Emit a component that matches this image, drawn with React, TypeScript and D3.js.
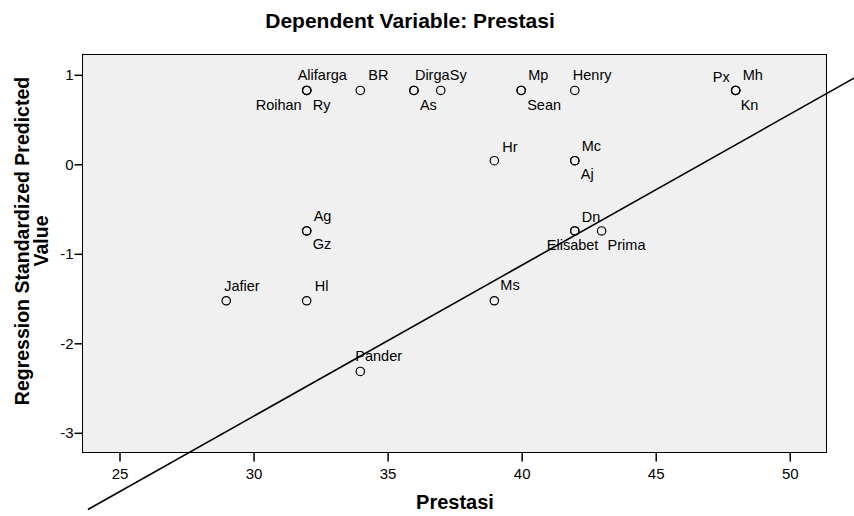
import React, { useEffect, useRef } from "react";
import * as d3 from "d3";

// values
const names = ["Alifarga", "Roihan", "Ry", "BR", "Dirga", "As", "Sy", "Mp", "Sean", "Henry", "Px", "Mh", "Kn",
  "Hr", "Mc", "Aj", "Ag", "Gz", "Dn", "Elisabet", "Prima", "Jafier", "Hl", "Ms", "Pander"];
const prestasi = [32, 32, 32, 34, 36, 36, 37, 40, 40, 42, 48, 48, 48,
  39, 42, 42, 32, 32, 42, 42, 43, 29, 32, 39, 34];
const predicted = [0.82, 0.82, 0.82, 0.82, 0.82, 0.82, 0.82, 0.82, 0.82, 0.82, 0.82, 0.82, 0.82,
  0.035, 0.035, 0.035, -0.75, -0.75, -0.75, -0.75, -0.75, -1.53, -1.53, -1.53, -2.32];
const xTicks = [25, 30, 35, 40, 45, 50];
const yTicks = [1, 0, -1, -2, -3];
const fitIntercept = -7.885;
const fitSlope = 0.1687;
const fitRange = [23.84, 53];

// where each point label sits relative to its marker
const labelPos: Record<string, [number, number, string]> = {
  Alifarga: [-9, -10, "start"], Roihan: [-5, 20, "end"], Ry: [6, 20, "start"],
  BR: [8, -10, "start"], Dirga: [1, -10, "start"], As: [6, 20, "start"], Sy: [9, -10, "start"],
  Mp: [7, -10, "start"], Sean: [6, 20, "start"], Henry: [-2, -10, "start"],
  Px: [-6, -8, "end"], Mh: [7, -10, "start"], Kn: [5, 20, "start"],
  Hr: [8, -9, "start"], Mc: [7, -10, "start"], Aj: [6, 18, "start"],
  Ag: [7, -10, "start"], Gz: [6, 18, "start"], Dn: [7, -9, "start"],
  Elisabet: [-28, 19, "start"], Prima: [6, 19, "start"],
  Jafier: [-2, -10, "start"], Hl: [8, -10, "start"], Ms: [6, -11, "start"], Pander: [-5, -10, "start"],
};

const width = 854;
const height = 516;
const margin = { top: 54, right: 28, bottom: 64, left: 82 };
const font = "Arial, 'Liberation Sans', sans-serif";

export default function App() {
  const ref = useRef<SVGSVGElement>(null);

  useEffect(() => {
    const svg = d3.select(ref.current);
    svg.selectAll("*").remove();

    const x = d3.scaleLinear().domain([23.62, 51.37]).range([margin.left, width - margin.right]);
    const y = d3.scaleLinear().domain([-3.22, 1.227]).range([height - margin.bottom, margin.top]);

    svg.append("rect").attr("width", width).attr("height", height).attr("fill", "#fff");

    svg.append("rect")
      .attr("x", margin.left + 0.5)
      .attr("y", margin.top + 0.5)
      .attr("width", width - margin.left - margin.right)
      .attr("height", height - margin.top - margin.bottom)
      .attr("fill", "#f0f0f0")
      .attr("stroke", "#000")
      .attr("stroke-width", 1);

    // axes
    const xAxis = d3.axisBottom(x).tickValues(xTicks).tickSize(9).tickSizeOuter(0).tickFormat(d => String(d));
    const gx = svg.append("g").attr("transform", `translate(0.5, ${height - margin.bottom + 0.5})`).call(xAxis);
    gx.select(".domain").remove();
    gx.selectAll("line").attr("stroke", "#000").attr("stroke-width", 1.5);
    gx.selectAll("text").attr("font-family", font).attr("font-size", 15).attr("fill", "#000").attr("dy", "0.95em");

    const yAxis = d3.axisLeft(y).tickValues(yTicks).tickSize(8).tickSizeOuter(0).tickFormat(d => String(d));
    const gy = svg.append("g").attr("transform", `translate(${margin.left + 0.5}, 0.5)`).call(yAxis);
    gy.select(".domain").remove();
    gy.selectAll("line").attr("stroke", "#000").attr("stroke-width", 1.5);
    gy.selectAll("text").attr("font-family", font).attr("font-size", 15).attr("fill", "#000").attr("x", -9);

    const pts = names.map((n, i) => ({ name: n, px: prestasi[i], pv: predicted[i] }));

    svg.append("g").selectAll("circle").data(pts).enter()
      .append("circle")
      .attr("cx", d => x(d.px))
      .attr("cy", d => y(d.pv))
      .attr("r", 4.2)
      .attr("fill", "none")
      .attr("stroke", "#000")
      .attr("stroke-width", 1.2);

    svg.append("g").selectAll("text").data(pts).enter()
      .append("text")
      .attr("x", d => x(d.px) + labelPos[d.name][0])
      .attr("y", d => y(d.pv) + labelPos[d.name][1])
      .attr("text-anchor", d => labelPos[d.name][2])
      .attr("font-family", font)
      .attr("font-size", 14.5)
      .attr("fill", "#000")
      .text(d => d.name);

    // fit line
    const line = d3.line<number>().x(d => x(d)).y(d => y(fitIntercept + fitSlope * d));
    svg.append("path")
      .attr("d", line(fitRange))
      .attr("fill", "none")
      .attr("stroke", "#000")
      .attr("stroke-width", 1.6);

    //titles
    svg.append("text")
      .attr("x", 410)
      .attr("y", 28)
      .attr("text-anchor", "middle")
      .attr("font-family", font)
      .attr("font-size", 21)
      .attr("font-weight", "bold")
      .text("Dependent Variable: Prestasi");

    svg.append("text")
      .attr("x", 455)
      .attr("y", 509)
      .attr("text-anchor", "middle")
      .attr("font-family", font)
      .attr("font-size", 20)
      .attr("font-weight", "bold")
      .text("Prestasi");

    const yt = svg.append("text")
      .attr("transform", "translate(0, 241) rotate(-90)")
      .attr("text-anchor", "middle")
      .attr("font-family", font)
      .attr("font-size", 19.5)
      .attr("font-weight", "bold");
    yt.append("tspan").attr("x", 0).attr("y", 29).text("Regression Standardized Predicted");
    yt.append("tspan").attr("x", 0).attr("y", 48).text("Value");
  }, []);

  return (
    <svg ref={ref} width={width} height={height}
      style={{ position: "absolute", left: 0, top: 0, display: "block" }} />
  );
}
